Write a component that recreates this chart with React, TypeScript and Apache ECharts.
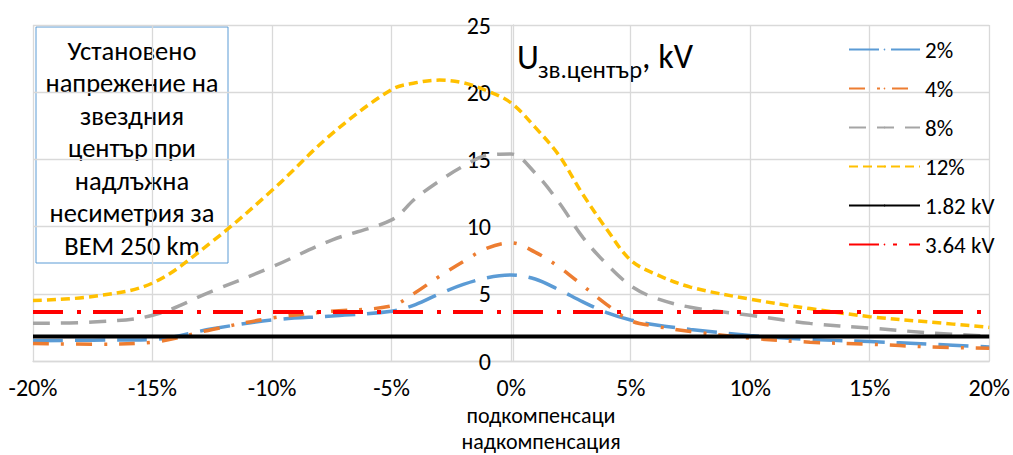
import React, { useEffect, useRef } from "react";
import * as echarts from "echarts";

const xValues = [-20, -17.5, -15, -12.5, -10, -7.5, -5, -4, -3, -2, -1, 0, 1, 2, 3, 4, 5, 6, 7.5, 10, 12.5, 15, 17.5, 20];
const s2 = [1.5, 1.55, 1.6, 2.4, 3.05, 3.35, 3.7, 4.2, 5.0, 5.7, 6.2, 6.4, 6.1, 5.3, 4.4, 3.6, 3.05, 2.7, 2.35, 1.9, 1.6, 1.45, 1.25, 1.05];
const s4 = [1.3, 1.25, 1.4, 2.35, 3.2, 3.7, 4.1, 5.1, 6.3, 7.4, 8.4, 8.8, 8.1, 7.0, 5.6, 4.2, 3.0, 2.6, 2.2, 1.7, 1.4, 1.25, 1.05, 0.95];
const s8 = [2.8, 2.9, 3.4, 5.2, 7.0, 9.0, 10.5, 12.1, 13.4, 14.5, 15.3, 15.4, 14.0, 11.8, 9.2, 7.2, 5.6, 4.7, 4.0, 3.4, 2.8, 2.45, 2.1, 1.85];
const s12 = [4.5, 4.8, 5.8, 8.9, 12.7, 16.9, 20.2, 20.7, 20.9, 20.7, 20.1, 19.2, 17.4, 15.3, 12.4, 9.8, 7.5, 6.5, 5.5, 4.6, 3.9, 3.3, 2.9, 2.5];
const refLevels = [1.82, 3.64];
const xRange = [-20, 20];
const seriesNames = ["2%", "4%", "8%", "12%", "1.82 kV", "3.64 kV"];
const boxLines = ["Установено", "напрежение на", "звездния", "център при", "надлъжна", "несиметрия за", "ВЕМ 250 km"];
const axisNameLines = ["подкомпенсаци", "надкомпенсация"];

const FONT = "Carlito, Calibri, Roboto, sans-serif";

export default function App() {
  const ref = useRef<HTMLDivElement>(null);
  useEffect(() => {
    if (!ref.current) return;
    const chart = echarts.init(ref.current, null, { renderer: "svg" });
    const pairs = (ys: number[]) => xValues.map((x, i) => [x, ys[i]]);
    const curve = (name: string, ys: number[], color: string, dash: number[], width: number) => ({
      name,
      type: "line",
      data: pairs(ys),
      smooth: 0.35,
      symbol: "none",
      lineStyle: { color, width, type: dash },
      itemStyle: { color },
    });
    const flat = (name: string, v: number, color: string, dash: any, width: number) => ({
      name,
      type: "line",
      data: xRange.map((x) => [x, v]),
      symbol: "none",
      lineStyle: { color, width, type: dash },
      itemStyle: { color },
    });
    const grayLine = { color: "#D9D9D9", width: 1.3 };
    chart.setOption({
      animation: false,
      textStyle: { fontFamily: FONT },
      grid: { left: 33, right: 21, top: 25, bottom: 94, containLabel: false },
      xAxis: {
        type: "value",
        min: -20,
        max: 20,
        interval: 5,
        axisLine: { show: true, lineStyle: grayLine },
        axisTick: { show: false },
        splitLine: { show: true, lineStyle: grayLine },
        axisLabel: { formatter: (v: number) => `${v}%`, fontSize: 24, color: "#000", margin: 14, fontFamily: FONT },
      },
      yAxis: {
        type: "value",
        min: 0,
        max: 25,
        interval: 5,
        position: "left",
        offset: -480,
        axisLine: { show: true, onZero: false, lineStyle: grayLine },
        axisTick: { show: false },
        splitLine: { show: true, lineStyle: grayLine },
        axisLabel: { fontSize: 24, color: "#000", margin: 22, fontFamily: FONT },
      },
      legend: {
        orient: "vertical",
        left: 848,
        top: 38,
        itemWidth: 71,
        itemHeight: 2,
        itemGap: 16,
        padding: 0,
        data: seriesNames,
        textStyle: { fontSize: 23, color: "#000", fontFamily: FONT },
      },
      series: [
        curve(seriesNames[0], s2, "#5B9BD5", [30, 12], 3.5),
        curve(seriesNames[1], s4, "#ED7D31", [16, 12, 3, 12], 3.5),
        curve(seriesNames[2], s8, "#A5A5A5", [17, 11], 3.5),
        curve(seriesNames[3], s12, "#FFC000", [9, 5], 3.5),
        flat(seriesNames[4], refLevels[0], "#000000", "solid", 4),
        flat(seriesNames[5], refLevels[1], "#FF0000", [30, 14, 4, 12], 4),
      ],
      graphic: [
        {
          type: "rect",
          shape: { x: 36, y: 27, width: 192, height: 236 },
          style: { fill: "none", stroke: "#5B9BD5", lineWidth: 1 },
        },
        {
          type: "text",
          x: 132,
          y: 148,
          style: {
            text: boxLines.join("\n"),
            font: `26.5px ${FONT}`,
            fill: "#000",
            lineHeight: 32.5,
            align: "center",
            verticalAlign: "middle",
          },
        },
        {
          type: "text",
          x: 517,
          y: 57,
          style: { text: "U", font: `34px ${FONT}`, fill: "#000", align: "left", verticalAlign: "middle" },
        },
        {
          type: "text",
          x: 538,
          y: 69,
          style: { text: "зв.център", font: `25px ${FONT}`, fill: "#000", align: "left", verticalAlign: "middle" },
        },
        {
          type: "text",
          x: 642,
          y: 56,
          style: { text: ", kV", font: `34px ${FONT}`, fill: "#000", align: "left", verticalAlign: "middle" },
        },
        {
          type: "text",
          x: 541,
          y: 428.5,
          style: {
            text: axisNameLines.join("\n"),
            font: `22px ${FONT}`,
            fill: "#000",
            lineHeight: 26,
            align: "center",
            verticalAlign: "middle",
          },
        },
      ],
    });
    return () => chart.dispose();
  }, []);
  return <div ref={ref} style={{ width: 1013, height: 455, position: "absolute", left: 0, top: 0 }} />;
}
